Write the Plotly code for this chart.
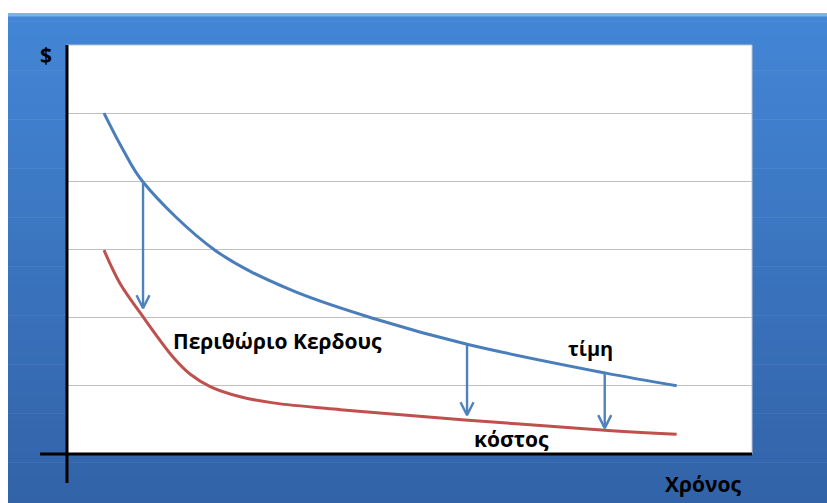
import plotly.graph_objects as go

W, H = 827, 503

# ---- data (abstract units: x = time, y = $) ----
price_x = [0.54, 0.82, 1.11, 2.16, 3.26, 4.50, 5.84, 7.85, 8.90]
price_y = [5.00, 4.46, 3.99, 2.99, 2.41, 1.98, 1.61, 1.19, 1.00]
cost_x = [0.54, 0.77, 1.07, 1.55, 1.80, 2.09, 2.53, 3.01, 3.99, 5.81, 7.85, 8.90]
cost_y = [2.99, 2.51, 2.07, 1.42, 1.17, 0.99, 0.84, 0.75, 0.65, 0.50, 0.35, 0.29]
arrow_x = [1.11, 5.84, 7.85]
arrow_top = [3.99, 1.61, 1.19]
arrow_bottom = [2.14, 0.57, 0.38]
grid_vals = [1, 2, 3, 4, 5]
label_margin = "Περιθώριο Κερδους"
label_price = "τίμη"
label_cost = "κόστος"
label_y = "$"
label_x = "Χρόνος"

# plot area in pixels
PX0, PX1 = 67, 752
PY0, PY1 = 45, 454

def px(x):
    return x / W

def py(y):
    return 1 - y / H

ARROW_C = "#4f81bd"
fig = go.Figure()
fig.add_trace(go.Scatter(x=price_x, y=price_y, mode="lines",
                         line=dict(color="#4a7ebb", width=3, shape="spline", smoothing=1.0),
                         hoverinfo="skip"))
fig.add_trace(go.Scatter(x=cost_x, y=cost_y, mode="lines",
                         line=dict(color="#c0504d", width=3, shape="spline", smoothing=1.0),
                         hoverinfo="skip"))

# arrows: shafts + open V heads derived from the arrow data
head_dx, head_dy = 0.095, 0.19
sx, sy, hx, hy = [], [], [], []
for xa, yt, yb in zip(arrow_x, arrow_top, arrow_bottom):
    sx += [xa, xa, None]
    sy += [yt, yb + 0.02, None]
    hx += [xa - head_dx, xa, xa + head_dx, None]
    hy += [yb + head_dy, yb, yb + head_dy, None]
fig.add_trace(go.Scatter(x=sx, y=sy, mode="lines",
                         line=dict(color=ARROW_C, width=2.4), hoverinfo="skip"))
fig.add_trace(go.Scatter(x=hx, y=hy, mode="lines",
                         line=dict(color=ARROW_C, width=2.4), hoverinfo="skip"))

shapes = []
# gradient frame background
n = 60
top_c = (67, 134, 214)
bot_c = (50, 99, 168)
fy0, fy1 = 13, H
for i in range(n):
    t = i / (n - 1)
    c = tuple(int(round(top_c[k] + (bot_c[k] - top_c[k]) * t)) for k in range(3))
    y0 = fy0 + (fy1 - fy0) * i / n
    y1 = fy0 + (fy1 - fy0) * (i + 1) / n + 0.6
    shapes.append(dict(type="rect", xref="paper", yref="paper", layer="below",
                       x0=px(8), x1=1, y0=py(y0), y1=py(min(y1, H)),
                       line=dict(width=0), fillcolor="rgb(%d,%d,%d)" % c))
# top highlight
shapes.append(dict(type="rect", xref="paper", yref="paper", layer="below",
                   x0=px(8), x1=1, y0=py(13), y1=py(16.5),
                   line=dict(width=0), fillcolor="#7ab2ee"))
# white plot area
shapes.append(dict(type="rect", xref="paper", yref="paper", layer="below",
                   x0=px(PX0), x1=px(PX1), y0=py(PY1), y1=py(PY0),
                   line=dict(width=1, color="#b8c4d4"), fillcolor="white"))
# axes lines (crossing style)
shapes.append(dict(type="line", xref="paper", yref="paper",
                   x0=px(40), x1=px(PX1), y0=py(PY1), y1=py(PY1),
                   line=dict(color="black", width=3)))
shapes.append(dict(type="line", xref="paper", yref="paper",
                   x0=px(PX0), x1=px(PX0), y0=py(PY0), y1=py(483),
                   line=dict(color="black", width=3)))

font_b = dict(family="Open Sans, Noto Sans, sans-serif", color="black")
annotations = [
    dict(text="<b>%s</b>" % label_y, xref="paper", yref="paper", x=px(46), y=py(55),
         showarrow=False, font=dict(size=21, **font_b), xanchor="center", yanchor="middle"),
    dict(text="<b>%s</b>" % label_x, xref="paper", yref="paper", x=px(703), y=py(484),
         showarrow=False, font=dict(size=21, **font_b), xanchor="center", yanchor="middle"),
    dict(text="<b>%s</b>" % label_margin, xref="paper", yref="paper", x=px(171), y=py(341),
         showarrow=False, font=dict(size=21, **font_b), xanchor="left", yanchor="middle"),
    dict(text="<b>%s</b>" % label_price, xref="paper", yref="paper", x=px(590), y=py(348),
         showarrow=False, font=dict(size=20, **font_b), xanchor="center", yanchor="middle"),
    dict(text="<b>%s</b>" % label_cost, xref="paper", yref="paper", x=px(511), y=py(439),
         showarrow=False, font=dict(size=21, **font_b), xanchor="center", yanchor="middle"),
]

fig.update_layout(
    width=W, height=H, margin=dict(l=0, r=0, t=0, b=0),
    paper_bgcolor="white", plot_bgcolor="rgba(0,0,0,0)",
    showlegend=False, shapes=shapes, annotations=annotations,
    xaxis=dict(domain=[px(PX0), px(PX1)], range=[0, 10], showgrid=False,
               zeroline=False, showticklabels=False, ticks="", fixedrange=True),
    yaxis=dict(domain=[py(PY1), py(PY0)], range=[0, 6], showgrid=True,
               gridcolor="#bfbfbf", gridwidth=1.3, tickvals=grid_vals,
               zeroline=False, showticklabels=False, ticks="", fixedrange=True),
)

fig.write_html("out.html", config={"displayModeBar": False})
